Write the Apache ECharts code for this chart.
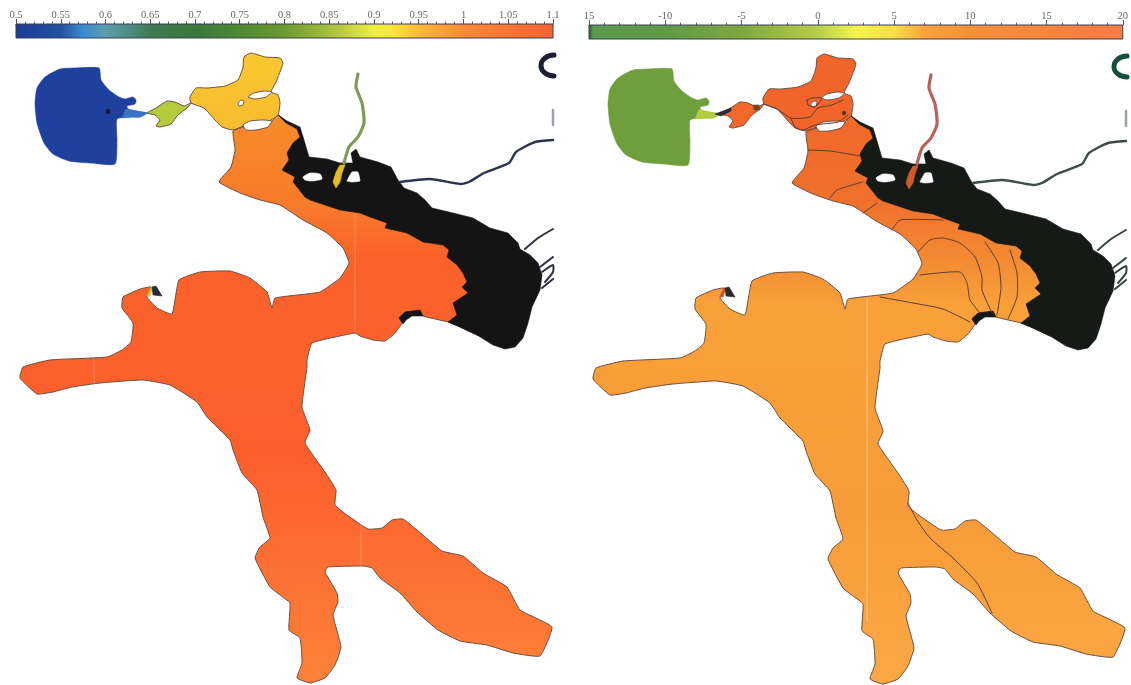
<!DOCTYPE html>
<html><head><meta charset="utf-8">
<style>html,body{margin:0;padding:0;background:#fff}#c{width:1131px;height:685px}</style>
<script src="https://cdn.jsdelivr.net/npm/echarts@6/dist/echarts.min.js"></script>
</head><body><div id="c"></div>
<script>
// scale values and tick labels
const leftRange = [0.5, 1.1];
const rightRange = [-15, 20];
const rightTickLabels = {'-15':'15','-10':'-10','-5':'-5','0':'0','5':'5','10':'10','15':'15','20':'20'};
const leftStops = [[0.5,'#1d3c96'],[0.55,'#20509f'],[0.575,'#3a8ad0'],[0.6,'#5c9fae'],[0.65,'#3f7a55'],[0.7,'#38783a'],[0.75,'#4e8a32'],[0.8,'#6c9a30'],[0.85,'#a6bf3e'],[0.9,'#eef040'],[0.92,'#f8e63a'],[0.95,'#fbba38'],[1.0,'#f88a38'],[1.1,'#f86232']];
const rightStops = [[-15,'#24502c'],[-14.7,'#5a9a4c'],[-10,'#5f9a46'],[-5,'#7fa83e'],[0,'#b6ce48'],[2.5,'#f4f44c'],[5,'#f7de48'],[7,'#f7a43a'],[10,'#f49038'],[20,'#f87a42']];

// outlines, in the map's own coordinates
const mainBody = [[233,131],[244,127],[271,122],[278,115],[287,122],[298,128],[302,138],[296,152],[320,185],[404,205],[453,230],[500,262],[510,300],[490,338],[477,335],[460,327],[448,322],[423,316],[420,311],[407,312],[399,317],[402,323],[395,333],[385,341],[373,340],[360,336],[355,333],[312,343],[307,360],[307,367],[302,407],[310,430],[305,443],[325,472],[336,490],[335,505],[347,515],[368,529],[382,528],[392,520],[403,519],[417,530],[442,551],[463,556],[483,573],[507,587],[520,610],[552,627],[540,656],[513,653],[487,645],[460,641],[438,630],[417,612],[400,593],[380,578],[372,568],[363,566],[328,567],[325,572],[337,593],[338,602],[333,615],[341,647],[335,665],[325,678],[310,683],[297,678],[302,663],[300,638],[289,630],[290,603],[280,595],[270,587],[255,558],[260,547],[270,538],[263,517],[257,490],[242,473],[233,450],[230,440],[207,417],[197,402],[170,385],[143,380],[100,383],[72,387],[53,392],[37,394],[20,378],[23,367],[50,360],[107,357],[122,350],[131,342],[133,323],[122,308],[123,297],[140,289],[151,287],[147,297],[157,308],[172,314],[179,280],[200,272],[230,271],[250,278],[267,292],[272,308],[275,298],[320,292],[340,278],[349,263],[343,248],[327,233],[303,220],[280,205],[260,200],[240,193],[219,182],[231,167],[235,150]];
const blueHead = [[99,68],[101,80],[109,90],[119,97],[125,99],[133,97],[136,100],[135,104],[127,106],[128,109],[136,111],[147,113],[140,117],[131,117],[117,119],[117,140],[115,164],[91,163],[69,161],[53,154],[44,143],[37,123],[35,103],[37,88],[45,77],[60,69],[76,68]];
const headTail = [[126,109],[136,111],[147,113],[140,117],[131,117],[122,118]];
const limeNeck = [[147,113],[156,108],[167,101],[175,102],[184,106],[191,103],[187,108],[178,115],[171,124],[160,127],[156,126],[160,120],[155,115]];
const upperBasin = [[191,103],[190,97],[196,88],[207,88],[225,86],[238,80],[243,67],[244,57],[251,53],[265,57],[280,58],[283,63],[276,82],[271,92],[278,95],[280,103],[278,115],[269,121],[244,126],[233,130],[222,127],[215,120],[204,108]];
const holeUpper = [[248,97],[254,93],[264,91],[272,92],[266,97],[255,99]];
const holeSmall = [[238,103],[241,100],[244,101],[243,105],[239,106]];
const holeLower = [[243,125],[250,121],[262,120],[272,121],[268,127],[256,130],[246,130]];
const blackDelta = [[278,115],[287,121],[300,127],[304,140],[309,157],[327,159],[340,163],[353,163],[351,153],[356,149],[360,157],[378,162],[391,167],[398,180],[404,188],[417,193],[425,200],[432,208],[453,213],[473,218],[490,228],[508,233],[518,243],[520,249],[530,255],[538,263],[542,275],[540,290],[532,307],[528,323],[523,338],[515,347],[505,349],[493,345],[477,335],[460,327],[448,322],[457,315],[453,303],[468,293],[462,287],[467,282],[463,273],[457,265],[447,257],[449,250],[443,245],[423,242],[407,233],[385,228],[387,223],[370,217],[360,213],[340,210],[310,200],[305,197],[293,182],[295,177],[282,170],[289,160],[287,153],[293,143],[300,137],[297,129],[286,123]];
const blackPatch = [[399,318],[405,312],[420,310],[423,316],[412,316],[406,320],[403,324]];
const whiteIsleA = [[303,177],[310,173],[320,174],[322,179],[312,181],[305,180]];
const whiteIsleB = [[347,181],[352,172],[358,172],[360,181],[352,182]];
const deltaBits = [[340,165],[345,165],[342,173],[340,182],[336,188],[333,182],[336,172]];
const pocketDark = [[152,287],[156,286],[162,296],[153,295]];
const pocketStrip = [[151,287],[153,287],[150,296],[147,296]];
const neckDark = [[142,113],[158,107],[158,110],[148,115]];
const knotDark = [[180,104],[186,104],[187,109],[181,109]];
const spotDark = [[269,111],[272,110],[273,113],[270,114]];
const spotHead = [[106,110],[109,109],[110,113],[107,114]];

// streams
const northRiver = [[358,74],[356,87],[362,103],[364,123],[358,137],[349,147],[344,163]];
const eastRiver = [[400,182],[430,179],[460,184],[469,182],[484,173],[509,163],[516,152],[535,142],[553,140]];
const southRiverA = [[525,249],[538,238],[553,229]];
const southRiverB = [[540,267],[553,257]];
const southRiverC = [[542,272],[553,265],[553,272],[545,282]];
const southRiverD = [[542,288],[553,279]];
const arcMark = [[554,55],[545,58],[541,66],[545,73],[554,76]];
const barMark = [[553,110],[553,125]];

// faint scanner streaks across the fields
const streakLeftA = [[94,358],[94,384]];
const streakLeftB = [[355,214],[355,334]];
const streakLeftC = [[361,524],[361,566]];
const streakRight = [[294,298],[294,620]];

// contour lines of the right-hand field
const contours = [
 [[235,149],[257,150],[287,155]],
 [[257,197],[264,189],[290,181]],
 [[290,212],[304,202]],
 [[319,229],[327,219],[370,219]],
 [[345,251],[357,239],[370,237],[387,242],[402,256],[409,276],[409,289],[419,312]],
 [[412,241],[425,262],[428,286],[424,314]],
 [[437,249],[444,272],[444,296],[435,318]],
 [[347,274],[387,271],[394,282],[397,299],[407,312]],
 [[307,296],[340,302],[370,308],[397,321]],
 [[335,502],[344,519],[357,537],[380,557],[404,582],[419,612]],
 [[218,117],[222,126],[230,129],[242,124],[265,121],[275,114]],
 [[191,103],[204,108],[218,117],[237,116],[245,107],[259,104],[270,99]],
 [[234,99],[239,97],[249,97],[242,106],[235,104],[234,99]]
];

const grad = stops => ({type:'linear',x:0,y:0,x2:0,y2:1,colorStops:stops.map(s=>({offset:s[0],color:s[1]}))});
const edge = '#6b4f42';
const shapes = [
 {p:mainBody, l:grad([[0,'#f68c2a'],[0.16,'#f77a2a'],[0.25,'#fb622a'],[0.6,'#fc5f2c'],[0.85,'#fc7434'],[1,'#fd8238']]), r:grad([[0,'#f0682a'],[0.15,'#f0702c'],[0.25,'#f28a32'],[0.33,'#f8a03a'],[0.7,'#f79c38'],[1,'#fca845']]), s:edge, m:0.12},
 {p:upperBasin, l:grad([[0,'#fbc82e'],[1,'#f8bb30']]), r:'#f1652a', s:edge, m:0.15},
 {p:limeNeck, l:'#b4cc3c', r:'#f2672a', s:edge, m:0.15},
 {p:blueHead, l:'#1f409c', r:'#6f9f3c', s:null, m:0.18},
 {p:headTail, l:'#3a74c4', r:'#b4cc40', s:null, m:0},
 {p:holeUpper, l:'#fff', r:'#fff', s:edge, m:0.15},
 {p:holeSmall, l:'#fff', r:'#fff', s:edge, m:0.15},
 {p:holeLower, l:'#fff', r:'#fff', s:edge, m:0.15},
 {p:pocketStrip, l:'#c8c83a', r:'#d8502c', s:null, m:0},
 {p:pocketDark, l:'#2a2a3a', r:'#2a2a2a', s:null, m:0},
 {p:blackDelta, l:'#141414', r:'#161a16', s:null, m:0},
 {p:blackPatch, l:'#141414', r:'#161a16', s:null, m:0},
 {p:whiteIsleA, l:'#fff', r:'#fff', s:null, m:0.2},
 {p:whiteIsleB, l:'#fff', r:'#fff', s:null, m:0.1},
 {p:deltaBits, l:'#e6bc22', r:'#cf5a2c', s:null, m:0},
 {p:neckDark, l:null, r:'#2a2a30', s:null, m:0},
 {p:knotDark, l:null, r:'#7a4028', s:null, m:0},
 {p:spotDark, l:null, r:'#5a2a1a', s:null, m:0},
 {p:spotHead, l:'#101830', r:null, s:null, m:0}
];
const lines = [
 {p:northRiver, l:'#84985a', r:'#b8625c', w:3.2, m:0.2},
 {p:eastRiver, l:'#2c3550', r:'#3c4c48', w:2.4, m:0.2},
 {p:southRiverA, l:'#2c3040', r:'#34443c', w:2, m:0.2},
 {p:southRiverB, l:'#2c3040', r:'#34443c', w:2, m:0.2},
 {p:southRiverC, l:'#2c3040', r:'#34443c', w:2, m:0.2},
 {p:southRiverD, l:'#2c3040', r:'#34443c', w:2, m:0.2},
 {p:arcMark, l:'#1c2030', r:'#145038', w:5, m:0.5},
 {p:barMark, l:'#9aa0b0', r:'#8fa8a0', w:2.5, m:0},
 {p:streakLeftA, l:'rgba(255,255,255,0.22)', r:null, w:1, m:0},
 {p:streakLeftB, l:'rgba(255,255,255,0.18)', r:null, w:1, m:0},
 {p:streakLeftC, l:'rgba(255,255,255,0.22)', r:null, w:1, m:0},
 {p:streakRight, l:null, r:'rgba(255,255,255,0.2)', w:2, m:0}
].concat(contours.map(c=>({p:c, l:null, r:'#5e3c2c', w:1, m:0.2})));

function mapSeries(idx, key){
  const items = shapes.map(s=>({...s,kind:'polygon'})).concat(lines.map(l=>({...l,kind:'polyline'}))).filter(o=>o[key]);
  return {type:'custom',coordinateSystem:'cartesian2d',xAxisIndex:idx,yAxisIndex:idx,clip:false,silent:true,
    encode:{x:0,y:1},data:items.map((o,i)=>[i,0]),
    renderItem:(p,api)=>{
      const o=items[api.value(0)];
      const pts=o.p.map(q=>api.coord(q));
      if(o.kind==='polygon'){
        return {type:'polygon',shape:{points:pts,smooth:o.m},style:{fill:o[key],stroke:o.s||o[key],lineWidth:o.s?1:0.6}};
      }
      return {type:'polyline',shape:{points:pts,smooth:o.m},style:{fill:null,stroke:o[key],lineWidth:o.w,lineCap:'round',lineJoin:'round'}};
    }};
}
function barSeries(idx, stops, range){
  const span=range[1]-range[0];
  return {type:'custom',coordinateSystem:'cartesian2d',xAxisIndex:idx,yAxisIndex:idx,silent:true,
    encode:{x:0,y:1},data:[[range[0],0]],
    renderItem:(p,api)=>{
      const a=api.coord([range[0],1]), b=api.coord([range[1],0]);
      return {type:'rect',shape:{x:a[0],y:a[1],width:b[0]-a[0],height:b[1]-a[1]},
        style:{fill:{type:'linear',x:0,y:0,x2:1,y2:0,colorStops:stops.map(s=>({offset:(s[0]-range[0])/span,color:s[1]}))},stroke:'#3a3f55',lineWidth:1}};
    }};
}
const hidden = (min,max,extra)=>Object.assign({type:'value',min,max,show:false,splitLine:{show:false}},extra||{});
const barAxis = (gi,range,interval,fmt)=>({type:'value',gridIndex:gi,position:'top',min:range[0],max:range[1],interval,
  axisLine:{show:true,onZero:false,lineStyle:{color:'#555',width:1}},
  axisTick:{show:true,length:5,lineStyle:{color:'#555'}},
  minorTick:{show:true,splitNumber:5,length:2.5,lineStyle:{color:'#666'}},
  splitLine:{show:false},
  axisLabel:{show:true,margin:3,fontFamily:'Liberation Serif',fontSize:10.5,color:'#666',showMinLabel:true,showMaxLabel:true,hideOverlap:false,formatter:fmt}});

const chart = echarts.init(document.getElementById('c'),null,{renderer:'canvas'});
chart.setOption({
  animation:false,backgroundColor:'#fff',
  grid:[
    {left:0,top:0,width:566,height:685},
    {left:573,top:1,width:558,height:684},
    {left:16,top:24,width:537,height:14},
    {left:589,top:25,width:539,height:14}
  ],
  xAxis:[
    hidden(0,566,{gridIndex:0}),
    hidden(0,558,{gridIndex:1}),
    barAxis(2,leftRange,0.05,v=>String(+v.toFixed(2))),
    barAxis(3,rightRange,5,v=>rightTickLabels[String(v)])
  ],
  yAxis:[
    hidden(0,685,{gridIndex:0,inverse:true}),
    hidden(0,684,{gridIndex:1,inverse:true}),
    hidden(0,1,{gridIndex:2}),
    hidden(0,1,{gridIndex:3})
  ],
  series:[
    mapSeries(0,'l'),
    mapSeries(1,'r'),
    barSeries(2,leftStops,leftRange),
    barSeries(3,rightStops,rightRange)
  ]
});
</script></body></html>
